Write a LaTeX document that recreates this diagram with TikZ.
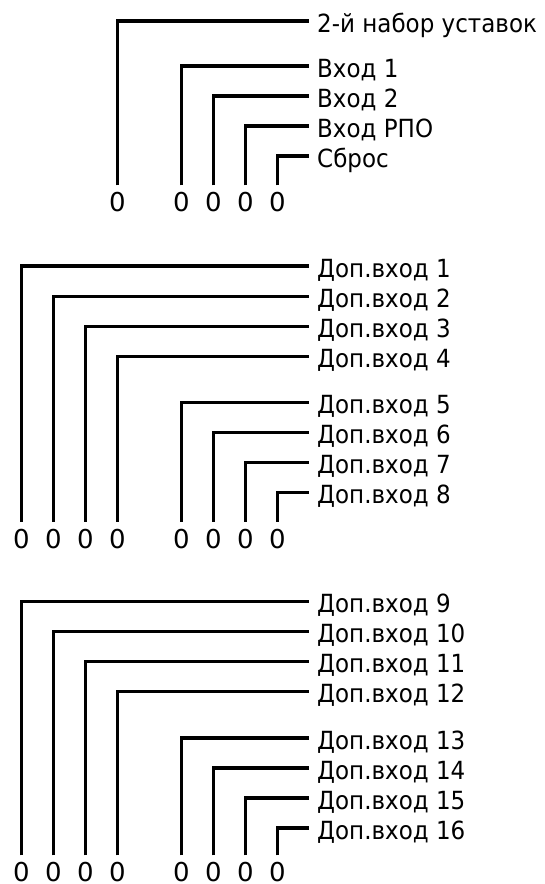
\documentclass[tikz,border=0pt]{standalone}
\usepackage{fontspec}
\setmainfont{DejaVu Sans}
\newfontfamily\tagfont{DejaVu Sans}[FakeStretch=0.92]
\usepackage{tikz}

\begin{document}
\begin{tikzpicture}[
    x=1pt, y=-1pt,
    wire/.style={line width=3.2pt, black},
    tag/.style={
      anchor=west, inner xsep=8pt, inner ysep=0pt,
      text height=24pt, text depth=2pt, font=\tagfont\fontsize{25}{29}\selectfont
    },
    bit/.style={
      anchor=base, inner sep=0pt,
      text height=26pt, text depth=0pt, font=\fontsize{26}{30}\selectfont
    },
  ]
  \useasboundingbox (0,0) rectangle (544,884);

  \node[tag] (set2) at (309,21) {2-й набор уставок};
  \node[tag] (in1) at (309,66) {Вход 1};
  \node[tag] (in2) at (309,96) {Вход 2};
  \node[tag] (inrpo) at (309,126) {Вход РПО};
  \node[tag] (reset) at (309,156) {Сброс};
  \node[bit] (b0) at (117.5,211.5) {0};
  \node[bit] (b1) at (181.5,211.5) {0};
  \node[bit] (b2) at (213.5,211.5) {0};
  \node[bit] (b3) at (245.5,211.5) {0};
  \node[bit] (b4) at (277.5,211.5) {0};
  \draw[wire] (b0.north) |- (set2.west);
  \draw[wire] (b1.north) |- (in1.west);
  \draw[wire] (b2.north) |- (in2.west);
  \draw[wire] (b3.north) |- (inrpo.west);
  \draw[wire] (b4.north) |- (reset.west);

  \node[tag] (ext1) at (309,266) {Доп.вход 1};
  \node[tag] (ext2) at (309,296.5) {Доп.вход 2};
  \node[tag] (ext3) at (309,326.5) {Доп.вход 3};
  \node[tag] (ext4) at (309,356.5) {Доп.вход 4};
  \node[tag] (ext5) at (309,402.7) {Доп.вход 5};
  \node[tag] (ext6) at (309,432.7) {Доп.вход 6};
  \node[tag] (ext7) at (309,462.7) {Доп.вход 7};
  \node[tag] (ext8) at (309,492.7) {Доп.вход 8};
  \node[bit] (c1) at (21.5,548) {0};
  \node[bit] (c2) at (53.5,548) {0};
  \node[bit] (c3) at (85.5,548) {0};
  \node[bit] (c4) at (117.5,548) {0};
  \node[bit] (c5) at (181.5,548) {0};
  \node[bit] (c6) at (213.5,548) {0};
  \node[bit] (c7) at (245.5,548) {0};
  \node[bit] (c8) at (277.5,548) {0};
  \draw[wire] (c1.north) |- (ext1.west);
  \draw[wire] (c2.north) |- (ext2.west);
  \draw[wire] (c3.north) |- (ext3.west);
  \draw[wire] (c4.north) |- (ext4.west);
  \draw[wire] (c5.north) |- (ext5.west);
  \draw[wire] (c6.north) |- (ext6.west);
  \draw[wire] (c7.north) |- (ext7.west);
  \draw[wire] (c8.north) |- (ext8.west);

  \node[tag] (ext9) at (309,601.5) {Доп.вход 9};
  \node[tag] (ext10) at (309,631.5) {Доп.вход 10};
  \node[tag] (ext11) at (309,661.5) {Доп.вход 11};
  \node[tag] (ext12) at (309,691.5) {Доп.вход 12};
  \node[tag] (ext13) at (309,738) {Доп.вход 13};
  \node[tag] (ext14) at (309,768) {Доп.вход 14};
  \node[tag] (ext15) at (309,798) {Доп.вход 15};
  \node[tag] (ext16) at (309,828) {Доп.вход 16};
  \node[bit] (d1) at (21.5,881.5) {0};
  \node[bit] (d2) at (53.5,881.5) {0};
  \node[bit] (d3) at (85.5,881.5) {0};
  \node[bit] (d4) at (117.5,881.5) {0};
  \node[bit] (d5) at (181.5,881.5) {0};
  \node[bit] (d6) at (213.5,881.5) {0};
  \node[bit] (d7) at (245.5,881.5) {0};
  \node[bit] (d8) at (277.5,881.5) {0};
  \draw[wire] (d1.north) |- (ext9.west);
  \draw[wire] (d2.north) |- (ext10.west);
  \draw[wire] (d3.north) |- (ext11.west);
  \draw[wire] (d4.north) |- (ext12.west);
  \draw[wire] (d5.north) |- (ext13.west);
  \draw[wire] (d6.north) |- (ext14.west);
  \draw[wire] (d7.north) |- (ext15.west);
  \draw[wire] (d8.north) |- (ext16.west);
\end{tikzpicture}
\end{document}
